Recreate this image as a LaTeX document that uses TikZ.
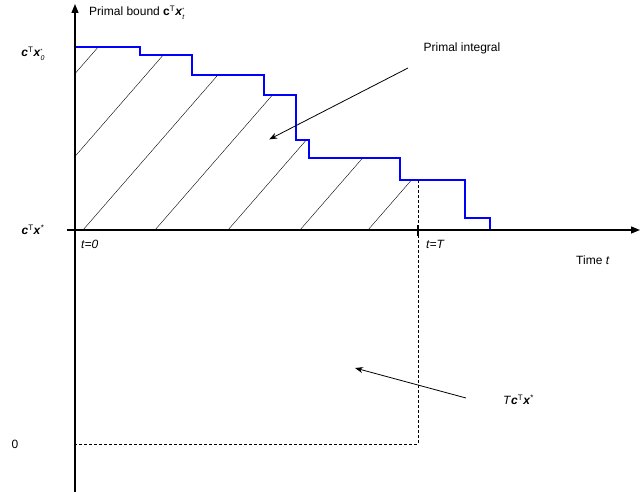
\documentclass[tikz,border=0pt]{standalone}
\usepackage{fontspec}
\setmainfont{Liberation Sans}
\usetikzlibrary{arrows.meta}
\newcommand\bbx{\textbf{\textit{x}}}
\newcommand\bbc{\textbf{\textit{c}}}
\newcommand\supT{\textsuperscript{T}}
\newcommand\subsup[2]{\makebox[0pt][l]{\raisebox{0.7ex}{\tiny #1}}\raisebox{-0.6ex}{\scriptsize\itshape #2}}
\begin{document}
\begin{tikzpicture}[x=1pt,y=-1pt,font=\fontsize{12}{14}\selectfont,
  axis/.style={line width=1.4pt,-{Triangle[length=9pt,width=7pt]}},
  stepline/.style={blue,line width=1.4pt},
  hatch/.style={line width=0.4pt},
  guide/.style={densely dashed,line width=0.5pt},
  pointer/.style={line width=0.8pt,-{Stealth[length=8pt,width=6pt]}},
  lbl/.style={inner sep=1pt}]
\useasboundingbox (0,0) rectangle (640,492);
\begin{scope}
\clip (75,47) -- (140,47) -- (140,55) -- (192,55) -- (192,75) -- (264,75) -- (264,95) -- (296,95) -- (296,140) -- (309,140) -- (309,158) -- (400,158) -- (400,180) -- (418,180) -- (418,230) -- (75,230) -- cycle;
\foreach \b in {-61,11,83,155,228,300,368,440}
  \draw[hatch] (\b,230) -- ++(207,-238);
\end{scope}
\draw[stepline] (75,47) -- (140,47) -- (140,55) -- (192,55) -- (192,75) -- (264,75) -- (264,95) -- (296,95) -- (296,140) -- (309,140) -- (309,158) -- (400,158) -- (400,180) -- (465,180) -- (465,218) -- (490,218) -- (490,230);
\coordinate (T) at (418,180);
\coordinate (Tb) at (418,444);
\coordinate (Z) at (75,444);
\draw[guide] (T) -- (Tb) -- (Z);
\coordinate (xs) at (67,230); \coordinate (xe) at (640,230);
\coordinate (ys) at (75,492); \coordinate (ye) at (75,4);
\draw[axis] (xs) -- (xe);
\draw[axis] (ys) -- (ye);
\draw[line width=1.4pt] (418,225) -- (418,236);
\node[lbl,anchor=west] (pb) at (88,13) {Primal bound \textbf{c}\supT\bbx\subsup{*}{t}};
\node[lbl] (c0) at (33,54) {\bbc\supT\bbx\subsup{*}{0}\hspace{4pt}};
\node[lbl] (cs) at (33,230) {\bbc\supT\bbx\textsuperscript{*}};
\node[lbl] (zero) at (15,444) {0};
\node[lbl,anchor=west] (t0) at (80,244) {\itshape t=0};
\node[lbl,anchor=west] (tT) at (425,244) {\itshape t=T};
\node[lbl,anchor=west] (time) at (575,260) {Time \itshape t};
\node[lbl] (pi) at (462,48) {Primal integral};
\node[lbl] (pa) at (268,140) {};
\draw[pointer] (408,68) -- (pa);
\node[lbl,anchor=west] (tc) at (502,400) {\textit{T}\bbc\supT\bbx\textsuperscript{*}};
\coordinate (ta) at (355,368);
\draw[pointer] (466,398) -- (ta);
\end{tikzpicture}
\end{document}
